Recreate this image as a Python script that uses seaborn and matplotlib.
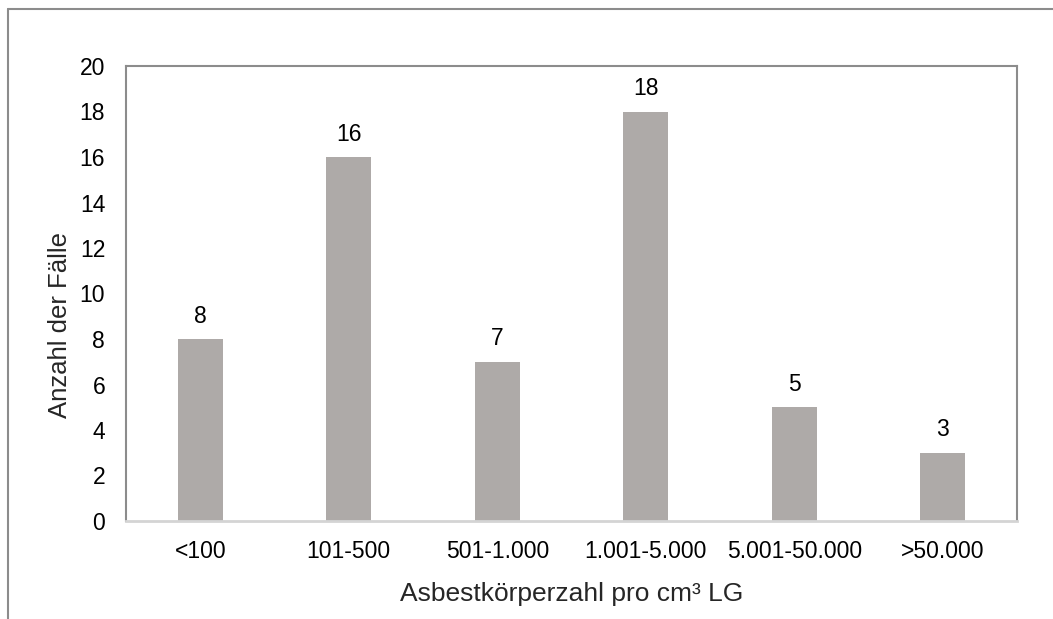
import matplotlib
matplotlib.use("Agg")
import matplotlib.pyplot as plt
import seaborn as sns
import pandas as pd
from matplotlib.lines import Line2D

categories = ["<100", "101-500", "501-1.000", "1.001-5.000", "5.001-50.000", ">50.000"]
counts = [8, 16, 7, 18, 5, 3]
y_ticks = [0, 2, 4, 6, 8, 10, 12, 14, 16, 18, 20]

sns.set_theme(style="white")
plt.rcParams["font.family"] = ["Liberation Sans", "DejaVu Sans"]

df = pd.DataFrame({"Klasse": categories, "Anzahl": counts})

W, H = 1053, 619
fig = plt.figure(figsize=(W / 100, H / 100), dpi=100)
ax = fig.add_axes([126 / W, 1 - 521 / H, (1017 - 126) / W, (521 - 66) / H])

sns.barplot(data=df, x="Klasse", y="Anzahl", color="#aeaaa8", width=0.30,
            saturation=1, ax=ax, edgecolor="none")

tick_fs = 16.5
ax.set_ylim(0, 20)
ax.set_xlim(-0.5, len(categories) - 0.5)
ax.set_yticks(y_ticks)
ax.set_yticklabels([str(t) for t in y_ticks], fontsize=tick_fs)
ax.set_xticks(range(len(categories)))
ax.set_xticklabels(categories, fontsize=tick_fs)
ax.tick_params(axis="both", length=0, colors="black")
ax.tick_params(axis="y", pad=15)
ax.tick_params(axis="x", pad=14)

for i, v in enumerate(counts):
    ax.text(i, v + 0.5, str(v), ha="center", va="bottom", fontsize=tick_fs, color="black")

ax.set_xlabel("Asbestkörperzahl pro cm³ LG", fontsize=19, labelpad=13)
ax.set_ylabel("Anzahl der Fälle", fontsize=18.5)
ax.yaxis.set_label_coords(-0.061, 0.43)

for side in ["left", "top", "right"]:
    ax.spines[side].set_color("#8c8c8c")
    ax.spines[side].set_linewidth(1.5)
ax.spines["bottom"].set_color("#d4d4d4")
ax.spines["bottom"].set_linewidth(2)

# outer frame (top and left edges)
fig.add_artist(Line2D([8 / W, 1.0], [1 - 9 / H, 1 - 9 / H], transform=fig.transFigure,
                      color="#8c8c8c", linewidth=1.5))
fig.add_artist(Line2D([8 / W, 8 / W], [0, 1 - 9 / H], transform=fig.transFigure,
                      color="#8c8c8c", linewidth=1.5))

fig.savefig("out.png", dpi=100)
